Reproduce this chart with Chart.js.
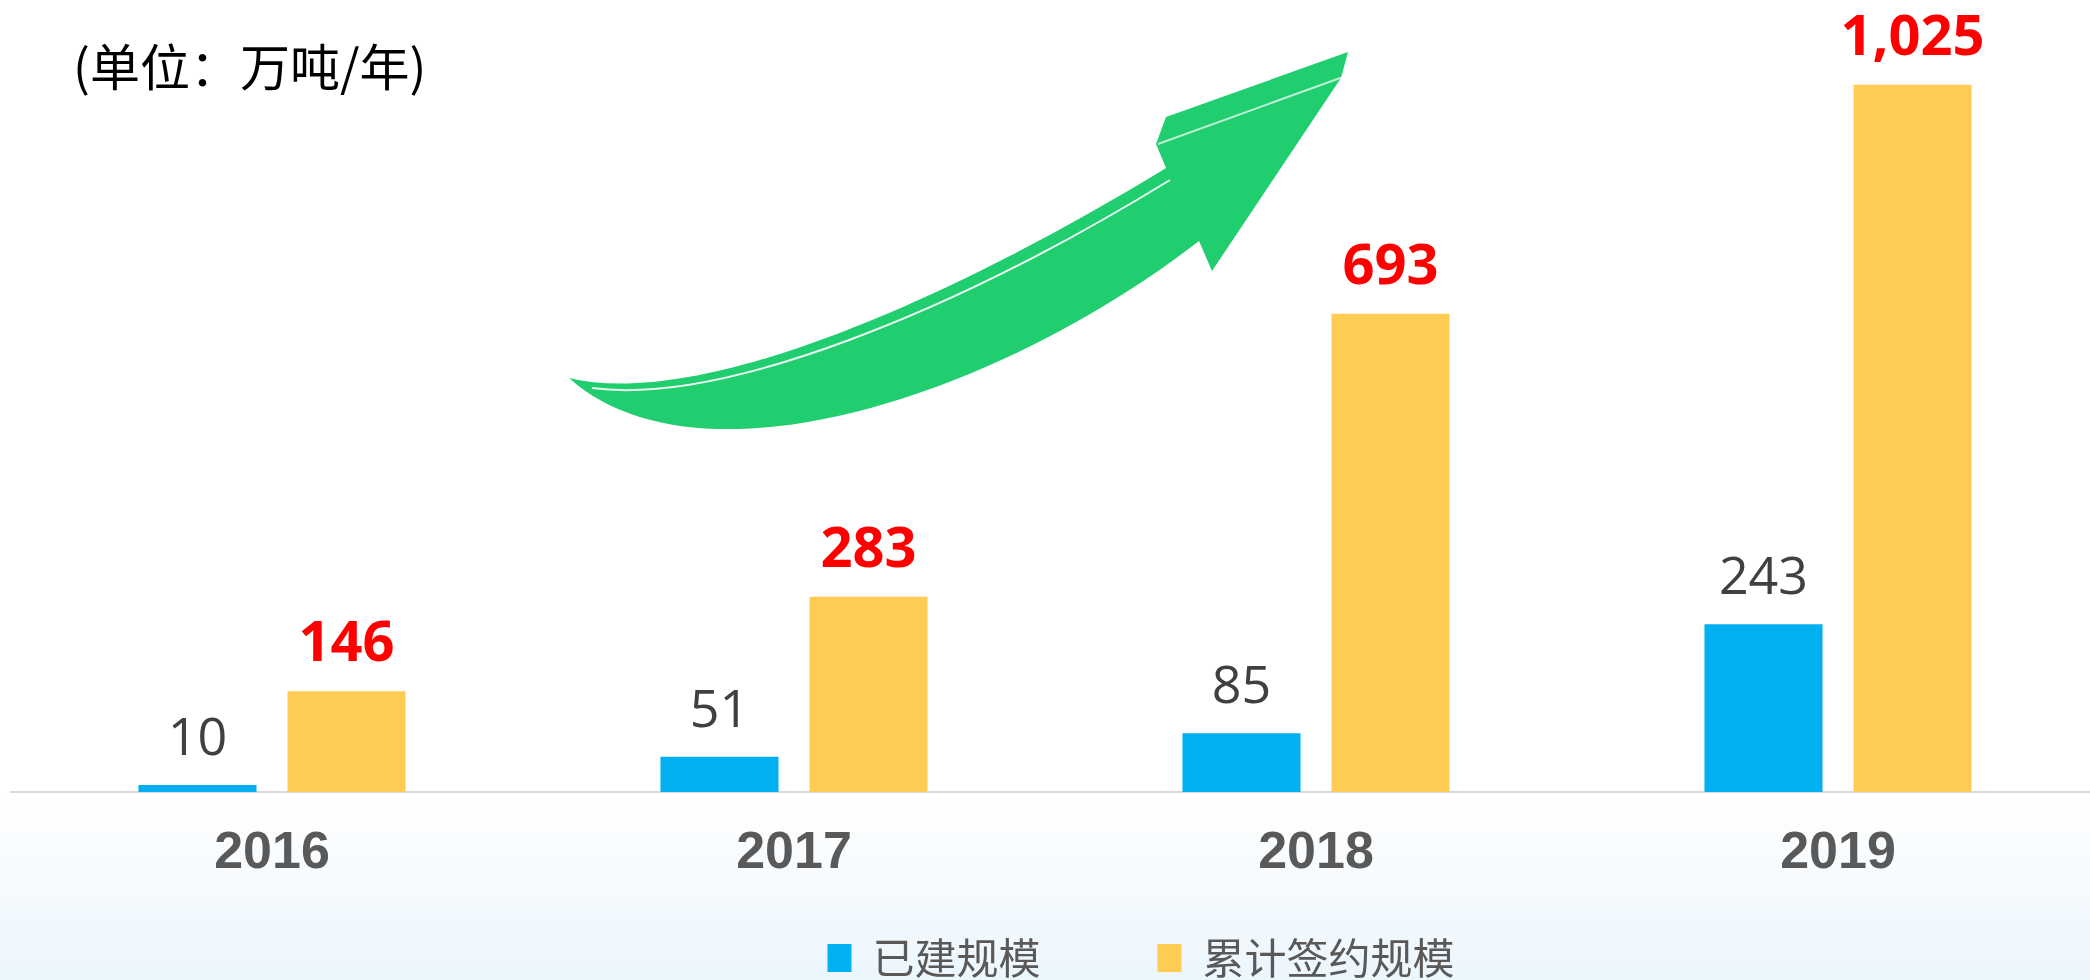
<!DOCTYPE html>
<html>
<head>
<meta charset="utf-8">
<script src="https://cdn.jsdelivr.net/npm/chart.js@4.4.0/dist/chart.umd.min.js"></script>
<style>
    html, body { margin: 0; padding: 0; overflow: hidden; }
    body {
        width: 2090px; height: 980px; position: relative;
        background: linear-gradient(to bottom, #ffffff 0px, #ffffff 793px, #ecf6fd 980px);
    }
    #unidad {
        position: absolute; left: 73px; top: 39px;
        font: 50px "Noto Sans CJK SC", sans-serif; line-height: 1; color: #000;
    }
    #flecha { position: absolute; left: 0; top: 0; }
    #grafica { position: absolute; left: 0; top: 0; }
</style>
</head>
<body>
<div id="unidad">(单位：万吨/年)</div>
<svg id="flecha" width="2090" height="980">
    <path d="M569 378 C700 410, 950 300, 1166 168 L1156 144 L1166 117 L1348 52 L1341 78 L1212 271 L1199 241 C1000 395, 700 495, 569 378 Z" fill="#20cd6f"/>
    <path d="M592 388 C720 405, 950 315, 1170 180" fill="none" stroke="#ffffff" stroke-width="2" opacity="0.9"/>
    <path d="M1158 144 L1343 77" fill="none" stroke="#ffffff" stroke-width="2" opacity="0.7"/>
</svg>
<canvas id="grafica" width="2271" height="980"></canvas>
<script>
const ANIOS = ['2016', '2017', '2018', '2019'];
const YA_CONSTRUIDO = [10, 51, 85, 243];
const ACUMULADO_FIRMADO = [146, 283, 693, 1025];
const NOMBRES_SERIES = ['已建规模', '累计签约规模'];
const COLORES = ['#00b0f0', '#fecb53'];

// etiquetas encima de cada barra
const etiquetasValor = {
    id: 'etiquetasValor',
    afterDatasetsDraw(chart) {
        const ctx = chart.ctx;
        ctx.save();
        ctx.textAlign = 'center';
        ctx.textBaseline = 'alphabetic';
        chart.data.datasets.forEach((ds, i) => {
            const meta = chart.getDatasetMeta(i);
            if (i === 0) {
                ctx.font = '52px "Open Sans"';
                ctx.fillStyle = '#404040';
            } else {
                ctx.font = 'bold 56px "Open Sans"';
                ctx.fillStyle = '#ff0000';
            }
            meta.data.forEach((bar, j) => {
                ctx.fillText(ds.data[j].toLocaleString('en-US'), bar.x, bar.y - 30);
            });
        });
        ctx.restore();
    }
};

new Chart(document.getElementById('grafica'), {
    type: 'bar',
    data: {
        labels: ANIOS,
        datasets: [
            { label: NOMBRES_SERIES[0], data: YA_CONSTRUIDO, backgroundColor: COLORES[0] },
            { label: NOMBRES_SERIES[1], data: ACUMULADO_FIRMADO, backgroundColor: COLORES[1] }
        ]
    },
    options: {
        responsive: false,
        animation: false,
        categoryPercentage: 0.571,
        barPercentage: 0.792,
        layout: { padding: { left: 11, top: 33, right: 0, bottom: 0 } },
        plugins: {
            tooltip: { enabled: false },
            legend: {
                position: 'bottom',
                maxHeight: 160,
                labels: {
                    boxWidth: 24,
                    boxHeight: 28,
                    padding: 117,
                    color: '#595959',
                    font: { family: '"Noto Sans CJK SC"', size: 42 }
                }
            }
        },
        scales: {
            x: {
                grid: { display: false, drawTicks: false },
                border: { color: '#d9d9d9', width: 2 },
                ticks: {
                    // mirror evita el recorte de las etiquetas; el padding negativo las baja
                    mirror: true,
                    padding: -93,
                    color: '#595959',
                    font: { family: '"Liberation Sans"', size: 52, weight: 'bold' }
                },
                afterFit: scale => { scale.height = 28; }
            },
            y: {
                position: 'right',
                min: 0,
                max: 1100,
                grid: { display: false },
                border: { display: false },
                ticks: { display: false },
                afterFit: scale => { scale.width = 172; }
            }
        }
    },
    plugins: [etiquetasValor]
});
</script>
</body>
</html>
